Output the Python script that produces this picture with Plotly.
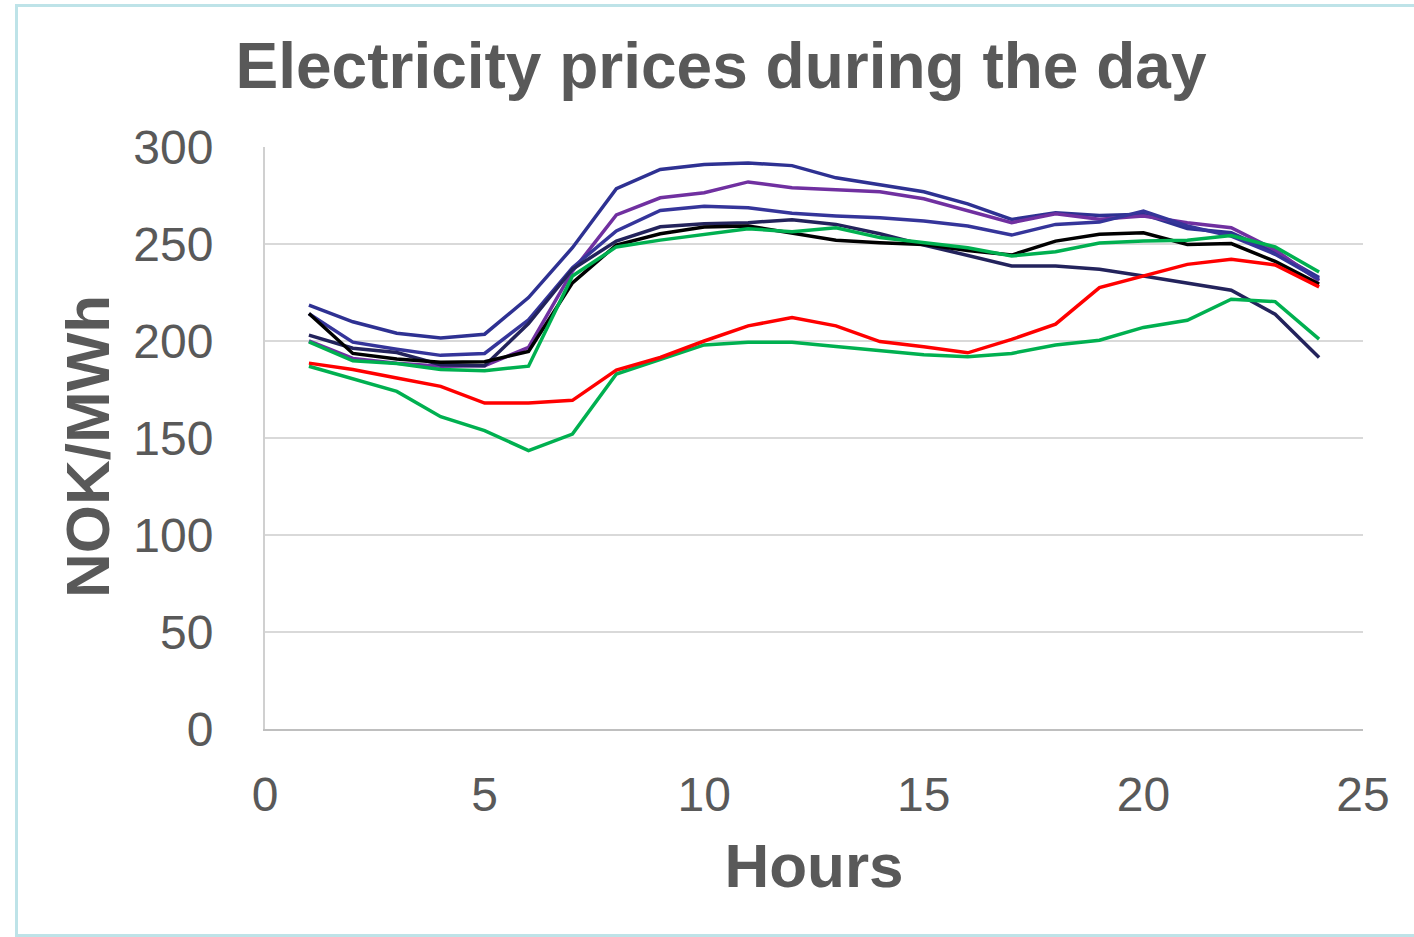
import plotly.graph_objects as go

hours = list(range(1, 25))

s_navy_top = [218.5, 209.9, 204.0, 201.6, 203.5, 222.4, 248.1, 278.5, 288.4, 291.0, 291.8, 290.4,
              284.1, 280.7, 276.9, 270.7, 262.7, 266.1, 264.7, 265.3, 258.0, 255.8, 245.5, 232.7]
s_purple = [200.0, 191.0, 188.5, 187.0, 187.2, 196.7, 236.0, 265.0, 273.8, 276.4, 282.0, 279.0,
            278.0, 276.9, 273.3, 267.0, 261.0, 265.6, 262.7, 264.4, 261.0, 258.4, 247.0, 231.0]
s_blue = [214.0, 199.4, 195.8, 192.6, 193.6, 210.9, 237.8, 256.7, 267.3, 269.5, 268.7, 265.8,
          264.4, 263.5, 261.8, 259.3, 254.6, 260.1, 261.3, 267.0, 259.3, 254.1, 244.7, 231.8]
s_black = [214.2, 193.6, 190.7, 189.0, 189.3, 194.6, 230.0, 249.5, 255.3, 258.7, 259.3, 255.5,
           251.9, 250.7, 249.8, 246.7, 244.3, 251.5, 255.0, 255.8, 249.8, 250.2, 241.0, 229.3]
s_navy_dark = [203.0, 196.3, 194.1, 187.8, 187.2, 209.0, 237.0, 251.5, 258.9, 260.4, 261.0, 262.5,
               260.1, 255.3, 249.5, 244.3, 238.7, 238.7, 237.0, 233.5, 230.0, 226.2, 213.8, 191.5]
s_green_high = [199.6, 189.8, 188.4, 185.3, 184.7, 187.0, 233.5, 248.5, 252.0, 255.0, 257.9, 256.3,
                258.4, 253.3, 250.7, 248.1, 243.8, 246.0, 250.5, 251.5, 251.9, 254.4, 248.5, 235.6]
s_red = [188.6, 185.3, 180.9, 176.6, 168.0, 168.0, 169.4, 185.0, 191.5, 200.0, 207.8, 212.1,
         207.8, 199.7, 197.0, 193.9, 200.8, 208.7, 227.5, 233.5, 239.5, 242.1, 239.2, 227.9]
s_green_low = [187.0, 180.5, 174.0, 161.0, 153.8, 143.5, 152.0, 183.0, 190.7, 198.0, 199.4, 199.4,
               197.2, 195.0, 192.9, 191.9, 193.6, 197.9, 200.4, 207.0, 210.7, 221.5, 220.3, 201.0]

series = [
    ("Series 1", s_navy_top, "#2E3192"),
    ("Series 2", s_purple, "#7030A0"),
    ("Series 3", s_blue, "#35359A"),
    ("Series 4", s_navy_dark, "#23235C"),
    ("Series 5", s_black, "#000000"),
    ("Series 6", s_green_high, "#00B050"),
    ("Series 7", s_green_low, "#00B050"),
    ("Series 8", s_red, "#FF0000"),
]

fig = go.Figure()
for name, vals, color in series:
    fig.add_trace(go.Scatter(x=hours, y=vals, mode="lines", name=name,
                             line=dict(color=color, width=3.5)))

FONT = "Liberation Sans, Arial, sans-serif"
GREY = "#595959"

# plot area: x 265..1363, y 147..729
L, R, T, B = 265, 51, 147, 208
W, H = 1414, 937
pw, ph = W - L - R, H - T - B

fig.update_layout(
    width=W, height=H,
    margin=dict(l=L, r=R, t=T, b=B),
    paper_bgcolor="white", plot_bgcolor="white",
    showlegend=False,
    font=dict(family=FONT, color=GREY),
    title=dict(text="<b>Electricity prices during the day</b>",
               font=dict(family=FONT, size=64, color=GREY),
               x=721 / W, xanchor="center", xref="container",
               y=1 - 66 / H, yanchor="middle", yref="container"),
)

fig.update_xaxes(range=[0, 25], dtick=5, tick0=0, showgrid=False, zeroline=False,
                 showline=True, linecolor="#BFBFBF", linewidth=2,
                 ticks="", tickfont=dict(family=FONT, size=48, color=GREY),
                 ticklabelstandoff=22,
                 title=dict(text="<b>Hours</b>", font=dict(family=FONT, size=62, color=GREY),
                            standoff=24))
fig.update_yaxes(range=[0, 300], dtick=50, tick0=0, showgrid=True, gridcolor="#D9D9D9",
                 gridwidth=1.5, zeroline=False,
                 showline=True, linecolor="#D0D0D0", linewidth=2,
                 ticks="", tickfont=dict(family=FONT, size=48, color=GREY),
                 ticklabelstandoff=40)

# y-axis title placed as rotated annotation
fig.add_annotation(text="<b>NOK/MWh</b>", textangle=-90, showarrow=False,
                   xref="paper", yref="paper",
                   x=(88 - L) / pw, y=(729 - 447) / ph,
                   xanchor="center", yanchor="middle",
                   font=dict(family=FONT, size=62, color=GREY))

# light frame around the chart
fig.add_shape(type="rect", xref="paper", yref="paper",
              x0=(16.5 - L) / pw, x1=(1417 - L) / pw,
              y0=(729 - 935.5) / ph, y1=(729 - 5.5) / ph,
              line=dict(color="#BEE3E8", width=3), fillcolor="rgba(0,0,0,0)", layer="below")

fig.write_html("out.html", config={"displayModeBar": False},
               post_script="document.body.style.margin='0';")
